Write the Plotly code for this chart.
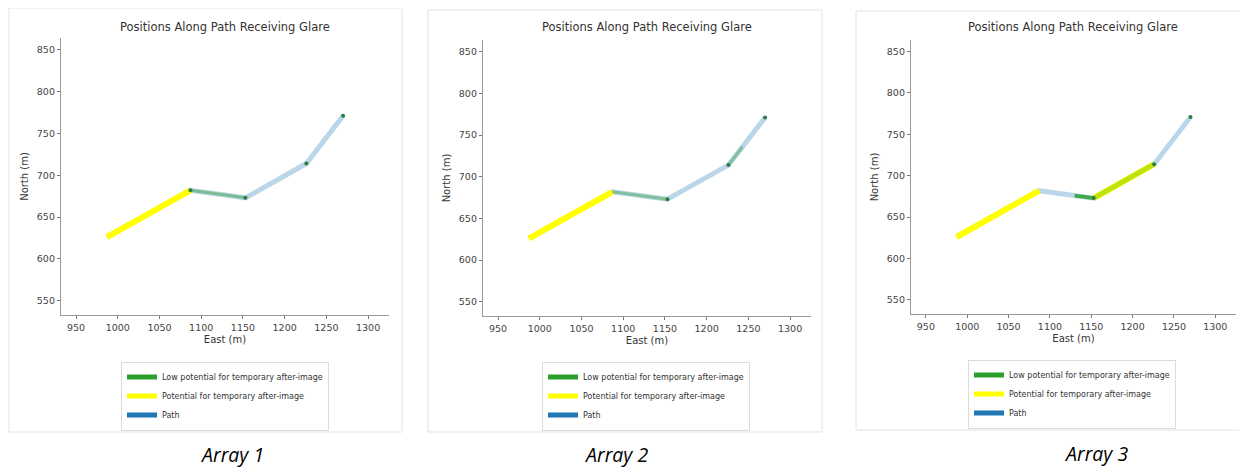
import plotly.graph_objects as go

W, H = 1247, 468
OFF = 8  # default page body margin
FW, FH = W - OFF, H - OFF

# ---------------- data (metres) ----------------
path_east = [987, 1087, 1153, 1226, 1270]
path_north = [626, 682, 673, 714, 771]

# Array 1
a1_pot_east = [987, 1087]
a1_pot_north = [626, 682]
a1_low_east = [1087, 1153]
a1_low_north = [682, 673]
a1_low_pts_east = [1087, 1153, 1226, 1270]
a1_low_pts_north = [682, 673, 714, 771]

# Array 2
a2_pot_east = [987, 1087]
a2_pot_north = [626, 682]
a2_low_east = [1087, 1153, None, 1226, 1243]
a2_low_north = [682, 673, None, 714, 736]
a2_low_pts_east = [1153, 1226, 1270]
a2_low_pts_north = [673, 714, 771]

# Array 3
a3_pot_east = [987, 1087, None, 1153, 1226]
a3_pot_north = [626, 682, None, 673, 714]
a3_low_east = [1130, 1153]
a3_low_north = [676, 673]
a3_low_over_east = [1153, 1226]
a3_low_over_north = [673, 714]
a3_low_pts_east = [1153, 1226, 1270]
a3_low_pts_north = [673, 714, 771]

x_ticks = [950, 1000, 1050, 1100, 1150, 1200, 1250, 1300]
y_ticks = [550, 600, 650, 700, 750, 800, 850]
x_range = [932, 1325]
y_range = [533, 864]

title_text = "Positions Along Path Receiving Glare"
legend_names = ["Low potential for temporary after-image",
                "Potential for temporary after-image",
                "Path"]
legend_colors = ["#2ca02c", "#ffff00", "#1f77b4"]
captions = ["Array 1", "Array 2", "Array 3"]

# ---------------- layout geometry (page pixels) ----------------
panels = [
    dict(ax=(61, 389), ay=(38, 315), box=(9, 8, 402, 432), title_x=225,
         leg=(225, 396), cap=(232, 454)),
    dict(ax=(483, 811), ay=(40, 316), box=(428, 10, 822, 432), title_x=647,
         leg=(646, 396), cap=(616, 454)),
    dict(ax=(911, 1236), ay=(40, 314), box=(856, 11, 1245, 430), title_x=1073,
         leg=(1072, 394), cap=(1096, 453)),
]

def px(xv):
    return (xv - OFF) / FW

def py(yv):
    return 1 - (yv - OFF) / FH

PATH_COLOR = "rgba(31,119,180,0.30)"
YELLOW = "#ffff00"
DOT = "#2b7d45"

fig = go.Figure()

series = [
    dict(pot=(a1_pot_east, a1_pot_north),
         low=[(a1_low_east, a1_low_north, "rgba(44,160,44,0.45)", 3)],
         pts=(a1_low_pts_east, a1_low_pts_north)),
    dict(pot=(a2_pot_east, a2_pot_north),
         low=[(a2_low_east, a2_low_north, "rgba(44,160,44,0.40)", 3)],
         pts=(a2_low_pts_east, a2_low_pts_north)),
    dict(pot=(a3_pot_east, a3_pot_north),
         low=[(a3_low_east, a3_low_north, "rgba(44,160,44,0.85)", 4),
              (a3_low_over_east, a3_low_over_north, "rgba(44,160,44,0.30)", 5)],
         pts=(a3_low_pts_east, a3_low_pts_north)),
]

for i, (p, s) in enumerate(zip(panels, series)):
    n = "" if i == 0 else str(i + 1)
    xa, ya = "x" + n, "y" + n
    leg = "legend" + n
    fig.add_trace(go.Scatter(x=path_east, y=path_north, mode="lines",
                             line=dict(color=PATH_COLOR, width=5),
                             xaxis=xa, yaxis=ya, showlegend=False, hoverinfo="skip"))
    fig.add_trace(go.Scatter(x=s["pot"][0], y=s["pot"][1], mode="lines",
                             line=dict(color=YELLOW, width=6),
                             xaxis=xa, yaxis=ya, showlegend=False, hoverinfo="skip"))
    for ex, ny, col, wd in s["low"]:
        fig.add_trace(go.Scatter(x=ex, y=ny, mode="lines",
                                 line=dict(color=col, width=wd),
                                 xaxis=xa, yaxis=ya, showlegend=False, hoverinfo="skip"))
    fig.add_trace(go.Scatter(x=s["pts"][0], y=s["pts"][1], mode="markers",
                             marker=dict(color=DOT, size=4),
                             xaxis=xa, yaxis=ya, showlegend=False, hoverinfo="skip"))
    for name, col in zip(legend_names, legend_colors):
        fig.add_trace(go.Scatter(x=[None], y=[None], mode="lines",
                                 line=dict(color=col, width=5), name=name,
                                 xaxis=xa, yaxis=ya, legend=leg, showlegend=True))

    axis_common = dict(showline=True, linecolor="#9a9a9a", linewidth=1.3,
                       ticks="outside", ticklen=3, tickwidth=1, tickcolor="#777",
                       showgrid=False, zeroline=False, fixedrange=True,
                       tickfont=dict(family="DejaVu Sans", size=9.5, color="#444"))
    fig.update_layout(**{
        "xaxis" + n: dict(axis_common, domain=[px(p["ax"][0]), px(p["ax"][1])],
                          range=x_range, tickvals=x_ticks, anchor=ya,
                          title=dict(text="East (m)", standoff=4,
                                     font=dict(family="DejaVu Sans", size=10, color="#333"))),
        "yaxis" + n: dict(axis_common, domain=[py(p["ay"][1]), py(p["ay"][0])],
                          range=y_range, tickvals=y_ticks, anchor=xa,
                          title=dict(text="North (m)", standoff=6,
                                     font=dict(family="DejaVu Sans", size=10, color="#333"))),
        leg: dict(x=px(p["leg"][0]), y=py(p["leg"][1]), xanchor="center", yanchor="middle",
                  xref="paper", yref="paper",
                  bgcolor="rgba(255,255,255,0.9)", bordercolor="#dcdcdc", borderwidth=1,
                  font=dict(family="DejaVu Sans", size=8, color="#333"),
                  itemwidth=30, tracegroupgap=0),
    })
    bx0, by0, bx1, by1 = p["box"]
    fig.add_shape(type="rect", xref="paper", yref="paper",
                  x0=px(bx0), x1=px(bx1), y0=py(by1), y1=py(by0),
                  line=dict(color="#e2e2e2", width=1), fillcolor="rgba(0,0,0,0)",
                  layer="below")
    fig.add_annotation(text=title_text, xref="paper", yref="paper",
                       x=px(p["title_x"]), y=py(27), xanchor="center", yanchor="middle",
                       showarrow=False,
                       font=dict(family="DejaVu Sans", size=11.5, color="#333"))
    fig.add_annotation(text="<i>" + captions[i] + "</i>", xref="paper", yref="paper",
                       x=px(p["cap"][0]), y=py(p["cap"][1]), xanchor="center", yanchor="middle",
                       showarrow=False, borderpad=0,
                       font=dict(family="Open Sans", size=19.5, color="#000"))

fig.update_layout(width=FW, height=FH, margin=dict(l=0, r=0, t=0, b=0),
                  paper_bgcolor="white", plot_bgcolor="white",
                  font=dict(family="DejaVu Sans"))

fig.write_html("out.html")
